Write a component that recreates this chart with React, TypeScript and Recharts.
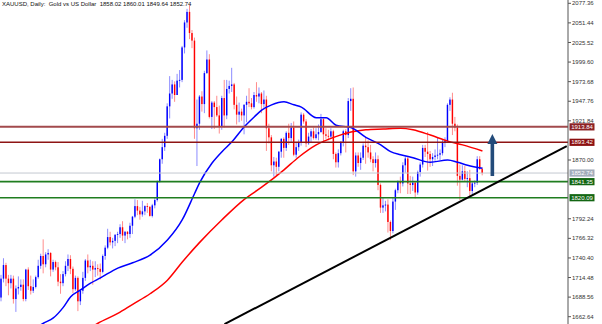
import React from 'react';
import { ComposedChart, Bar, Line, XAxis, YAxis, ReferenceLine } from 'recharts';

// Daily XAUUSD candles, oldest first
const opens = [
  1688, 1713, 1731, 1713, 1707, 1713, 1686, 1700, 1702, 1705, 1686, 1725, 1703, 1697, 1702, 1715, 1730, 1743, 1732, 1745,
  1747, 1725, 1735, 1728, 1709, 1707, 1719, 1730, 1739, 1726, 1699, 1714, 1683, 1697, 1714, 1737, 1728, 1730, 1725, 1727,
  1726, 1722, 1743, 1754, 1768, 1761, 1763, 1771, 1772, 1781, 1770, 1775, 1772, 1783, 1795, 1809, 1803, 1798, 1802, 1809,
  1808, 1796, 1810, 1817, 1842, 1871, 1887, 1902, 1941, 1958, 1970, 1956, 1975, 1976, 2019, 2052, 2066, 2038, 2028, 1912,
  1918, 1954, 1944, 1985, 2003, 1927, 1946, 1940, 1929, 1915, 1952, 1929, 1964, 1968, 1970, 1943, 1930, 1934, 1929, 1943,
  1947, 1945, 1940, 1956, 1954, 1958, 1944, 1950, 1912, 1900, 1863, 1868, 1861, 1881, 1898, 1886, 1906, 1899, 1913, 1877,
  1887, 1893, 1930, 1921, 1892, 1901, 1908, 1899, 1904, 1907, 1924, 1904, 1902, 1901, 1908, 1878, 1867, 1879, 1894, 1908,
  1903, 1948, 1951, 1855, 1876, 1866, 1873, 1889, 1887, 1880, 1871, 1866, 1871, 1837, 1807, 1810, 1811, 1788, 1776, 1815,
  1830, 1841, 1839, 1863, 1872, 1839, 1837, 1840, 1827, 1854, 1864, 1886, 1881, 1878, 1871, 1874, 1876, 1877, 1879, 1894,
  1895, 1943, 1950, 1918, 1913, 1849, 1844, 1855, 1845, 1846, 1829, 1839, 1840, 1871, 1858.02,
];
const highs = [
  1718, 1740, 1734, 1718, 1718, 1717, 1704, 1716, 1712, 1712, 1726, 1728, 1717, 1712, 1717, 1738, 1746, 1765, 1748, 1752,
  1748, 1738, 1737, 1735, 1719, 1723, 1736, 1745, 1744, 1729, 1717, 1716, 1699, 1722, 1739, 1745, 1738, 1736, 1736, 1732,
  1733, 1745, 1757, 1779, 1775, 1767, 1772, 1775, 1785, 1789, 1776, 1776, 1787, 1796, 1818, 1817, 1808, 1816, 1810, 1813,
  1809, 1812, 1820, 1843, 1872, 1898, 1906, 1945, 1981, 1976, 1974, 1984, 1989, 2021, 2055, 2070, 2075, 2042, 2032, 1950,
  1956, 1961, 1988, 2015, 2010, 1948, 1948, 1955, 1942, 1955, 1976, 1976, 1975, 1992, 1972, 1954, 1946, 1938, 1944, 1955,
  1965, 1952, 1960, 1973, 1966, 1960, 1962, 1955, 1918, 1903, 1874, 1873, 1882, 1899, 1900, 1908, 1918, 1919, 1921, 1893,
  1897, 1933, 1932, 1924, 1906, 1911, 1913, 1912, 1917, 1931, 1925, 1912, 1910, 1912, 1910, 1880, 1884, 1895, 1910, 1911,
  1952, 1965, 1966, 1880, 1880, 1880, 1892, 1900, 1896, 1890, 1875, 1880, 1876, 1839, 1820, 1816, 1818, 1790, 1820, 1832,
  1843, 1848, 1867, 1875, 1875, 1849, 1848, 1842, 1856, 1867, 1890, 1890, 1907, 1882, 1879, 1884, 1900, 1884, 1897, 1900,
  1945, 1953, 1959, 1927, 1917, 1864, 1863, 1862, 1855, 1857, 1841, 1843, 1875, 1875, 1860.01,
];
const lows = [
  1683, 1708, 1703, 1691, 1700, 1680, 1669, 1692, 1697, 1683, 1683, 1698, 1692, 1694, 1700, 1713, 1726, 1720, 1728, 1738,
  1716, 1722, 1724, 1703, 1693, 1703, 1716, 1723, 1719, 1694, 1697, 1670, 1678, 1693, 1710, 1720, 1723, 1705, 1715, 1717,
  1712, 1720, 1738, 1752, 1757, 1753, 1756, 1760, 1767, 1763, 1760, 1765, 1767, 1772, 1793, 1797, 1791, 1795, 1797, 1800,
  1795, 1794, 1806, 1815, 1840, 1865, 1882, 1898, 1925, 1951, 1947, 1956, 1966, 1973, 2011, 2045, 2030, 2018, 1898, 1862,
  1910, 1934, 1932, 1984, 1925, 1911, 1911, 1927, 1905, 1910, 1913, 1924, 1958, 1960, 1937, 1917, 1920, 1922, 1904, 1920,
  1940, 1937, 1938, 1947, 1945, 1932, 1939, 1882, 1892, 1855, 1848, 1850, 1855, 1873, 1873, 1882, 1890, 1893, 1875, 1873,
  1882, 1889, 1918, 1887, 1890, 1893, 1897, 1897, 1896, 1906, 1894, 1898, 1896, 1898, 1871, 1860, 1860, 1876, 1888, 1880,
  1899, 1935, 1850, 1848, 1861, 1857, 1870, 1865, 1873, 1867, 1855, 1860, 1830, 1800, 1800, 1802, 1774, 1764, 1773, 1804,
  1826, 1826, 1835, 1853, 1825, 1825, 1829, 1819, 1824, 1848, 1860, 1874, 1856, 1861, 1862, 1869, 1871, 1870, 1876, 1887,
  1895, 1935, 1903, 1908, 1836, 1817, 1843, 1842, 1834, 1822, 1824, 1834, 1837, 1857, 1849.64,
];
const closes = [
  1713, 1731, 1713, 1707, 1713, 1686, 1700, 1702, 1705, 1686, 1725, 1703, 1697, 1702, 1715, 1730, 1743, 1732, 1745, 1747,
  1725, 1735, 1728, 1709, 1707, 1719, 1730, 1739, 1726, 1699, 1714, 1683, 1697, 1714, 1737, 1728, 1730, 1725, 1727, 1726,
  1722, 1743, 1754, 1768, 1761, 1763, 1771, 1772, 1781, 1770, 1775, 1772, 1783, 1795, 1809, 1803, 1798, 1802, 1809, 1808,
  1796, 1810, 1817, 1842, 1871, 1887, 1902, 1941, 1958, 1970, 1956, 1975, 1976, 2019, 2052, 2066, 2038, 2028, 1912, 1918,
  1954, 1944, 1985, 2003, 1927, 1946, 1940, 1929, 1915, 1952, 1929, 1964, 1968, 1970, 1943, 1930, 1934, 1929, 1943, 1947,
  1945, 1940, 1956, 1954, 1958, 1944, 1950, 1912, 1900, 1863, 1868, 1861, 1881, 1898, 1886, 1906, 1899, 1913, 1877, 1887,
  1893, 1930, 1921, 1892, 1901, 1908, 1899, 1904, 1907, 1924, 1904, 1902, 1901, 1908, 1878, 1867, 1879, 1894, 1908, 1903,
  1948, 1951, 1855, 1876, 1866, 1873, 1889, 1887, 1880, 1871, 1866, 1871, 1837, 1807, 1810, 1811, 1788, 1776, 1815, 1830,
  1841, 1839, 1863, 1872, 1839, 1837, 1840, 1827, 1854, 1864, 1886, 1881, 1878, 1871, 1874, 1876, 1877, 1879, 1894, 1895,
  1943, 1950, 1918, 1913, 1849, 1844, 1855, 1845, 1846, 1829, 1839, 1840, 1871, 1858, 1852.74,
];

// Moving averages, read at selected bar positions
const blueMaIdx = [14, 17, 21, 25, 28, 32, 36, 40, 47, 53, 60, 67, 73, 78, 80, 85, 89, 93, 98, 102, 105, 109, 114, 118, 121, 127, 131, 135, 141, 147, 153, 157, 161, 166, 173, 180, 184, 188, 194];
const blueMaVal = [1648, 1654, 1661, 1675, 1689, 1698, 1707, 1714, 1727, 1734, 1744, 1764, 1791, 1826, 1840, 1866, 1881, 1894, 1914, 1927, 1936, 1943, 1947, 1943, 1940, 1926, 1926, 1916, 1913, 1900, 1890, 1881, 1877, 1873, 1867, 1870, 1867, 1863, 1859];
const redMaIdx = [36, 39, 47, 53, 60, 67, 73, 80, 89, 98, 105, 114, 120, 127, 134, 141, 147, 154, 161, 166, 173, 180, 186, 194];
const redMaVal = [1648, 1654, 1667, 1679, 1693, 1711, 1735, 1761, 1791, 1818, 1834, 1857, 1874, 1890, 1900, 1907, 1910, 1911, 1912, 1910, 1903, 1895, 1890, 1882];

const yTicks = [2077.36, 2051.44, 2025.52, 1999.6, 1973.68, 1947.76, 1921.84, 1870.0, 1792.24, 1766.32, 1740.4, 1714.48, 1688.56, 1662.64];
const levelValues = [1913.84, 1893.42, 1852.74, 1841.35, 1820.09];
const levelLineColors = ['#a24a4c', '#8e1414', '#c3c8d0', '#1f7d1f', '#1f7d1f'];
const levelTagColors = ['#8c2224', '#8c1010', '#a3adbb', '#136613', '#136613'];
const levelWidths = [2, 1.6, 1, 1.6, 1.6];

const TOTAL_SLOTS = 229;
const trendFrom = { i: 90, p: 1652.8 };
const trendTo = { i: 228, p: 1888.4 };
const arrowSlot = 198;
const arrowBase = 1848.8;
const arrowTip = 1904.4;

const fmt = (v: number) => v.toFixed(2);

const toMap = (idx: number[], val: number[]) => {
  const m: Record<number, number> = {};
  idx.forEach((k, j) => (m[k] = val[j]));
  return m;
};
const blueMap = toMap(blueMaIdx, blueMaVal);
const redMap = toMap(redMaIdx, redMaVal);

const rows = Array.from({ length: TOTAL_SLOTS }, (_, i) => {
  const has = i < opens.length;
  return {
    i,
    o: has ? opens[i] : undefined,
    h: has ? highs[i] : undefined,
    l: has ? lows[i] : undefined,
    c: has ? closes[i] : undefined,
    range: has ? [lows[i], highs[i]] : undefined,
    blue: blueMap[i],
    red: redMap[i],
  };
});

const Candle = (props: any) => {
  const { x, y, width, height, payload } = props;
  if (!payload || payload.o == null || !isFinite(height) || height <= 0) return <g />;
  const { o, h, l, c } = payload;
  const k = height / (h - l);
  const cx = x + width / 2;
  const yO = y + (h - o) * k;
  const yC = y + (h - c) * k;
  const up = c >= o;
  const top = Math.min(yO, yC);
  const bh = Math.max(Math.abs(yC - yO), 0.9);
  const bw = width * 0.72;
  return (
    <g>
      <line x1={cx} x2={cx} y1={y} y2={y + height} stroke={up ? '#8c8cff' : '#ff8c8c'} strokeWidth={1} />
      <rect x={cx - bw / 2} y={top} width={bw} height={bh} fill={up ? '#0000ff' : '#ff0000'} />
    </g>
  );
};

const PriceTag = (props: any) => {
  const { viewBox, text, bg } = props;
  if (!viewBox) return null;
  const x = viewBox.x + viewBox.width + 1.5;
  const y = viewBox.y;
  return (
    <g>
      <rect x={x} y={y - 3.6} width={25} height={7.2} fill={bg} />
      <text x={x + 12.5} y={y} dy="0.36em" textAnchor="middle" fontSize={6} fill="#ffffff" fontFamily="Liberation Sans, Arial, sans-serif">
        {text}
      </text>
    </g>
  );
};

const Arrow = (props: any) => {
  const { x1, y1, y2 } = props;
  const top = Math.min(y1, y2);
  const bottom = Math.max(y1, y2);
  const head = 10;
  const color = '#234b7a';
  return (
    <g>
      <rect x={x1 - 1.8} y={top + head - 1} width={3.6} height={bottom - top - head + 1} fill={color} />
      <polygon points={`${x1 - 5},${top + head} ${x1 + 5},${top + head} ${x1},${top}`} fill={color} />
    </g>
  );
};

export default function App() {
  return (
    <div style={{ position: 'absolute', left: 0, top: 0, width: 602, height: 324, background: '#ffffff', overflow: 'hidden' }}>
      <ComposedChart width={602} height={324} data={rows} margin={{ top: 0, right: 0, bottom: 0, left: 0 }} barCategoryGap={0}>
        <XAxis dataKey="i" type="category" hide />
        <YAxis
          orientation="right"
          width={34}
          domain={[1652.98, 2081.73]}
          allowDataOverflow
          ticks={yTicks}
          interval={0}
          tickFormatter={fmt}
          tickSize={3}
          tickMargin={1}
          tick={{ fontSize: 6, fill: '#333333', fontFamily: 'Liberation Sans, Arial, sans-serif' }}
          axisLine={{ stroke: '#555555' }}
          tickLine={{ stroke: '#555555' }}
        />
        <Bar dataKey="range" shape={<Candle />} isAnimationActive={false} />
        <Line dataKey="red" type="monotone" stroke="#ff0000" strokeWidth={1.5} dot={false} connectNulls isAnimationActive={false} />
        <Line dataKey="blue" type="monotone" stroke="#0000ff" strokeWidth={1.5} dot={false} connectNulls isAnimationActive={false} />
        {levelValues.map((v, j) => (
          <ReferenceLine
            key={v}
            y={v}
            stroke={levelLineColors[j]}
            strokeWidth={levelWidths[j]}
            ifOverflow="visible"
            label={<PriceTag text={fmt(v)} bg={levelTagColors[j]} />}
          />
        ))}
        <ReferenceLine
          segment={[{ x: trendFrom.i, y: trendFrom.p }, { x: trendTo.i, y: trendTo.p }]}
          stroke="#000000"
          strokeWidth={2}
          ifOverflow="visible"
        />
        <ReferenceLine
          segment={[{ x: arrowSlot, y: arrowBase }, { x: arrowSlot, y: arrowTip }]}
          ifOverflow="visible"
          shape={<Arrow />}
        />
      </ComposedChart>
      <div style={{ position: 'absolute', left: 2, top: 1, fontSize: 6, lineHeight: '7px', color: '#111', fontFamily: 'Liberation Sans, Arial, sans-serif', whiteSpace: 'pre' }}>
        {'XAUUSD, Daily:  Gold vs US Dollar  1858.02 1860.01 1849.64 1852.74'}
      </div>
    </div>
  );
}
